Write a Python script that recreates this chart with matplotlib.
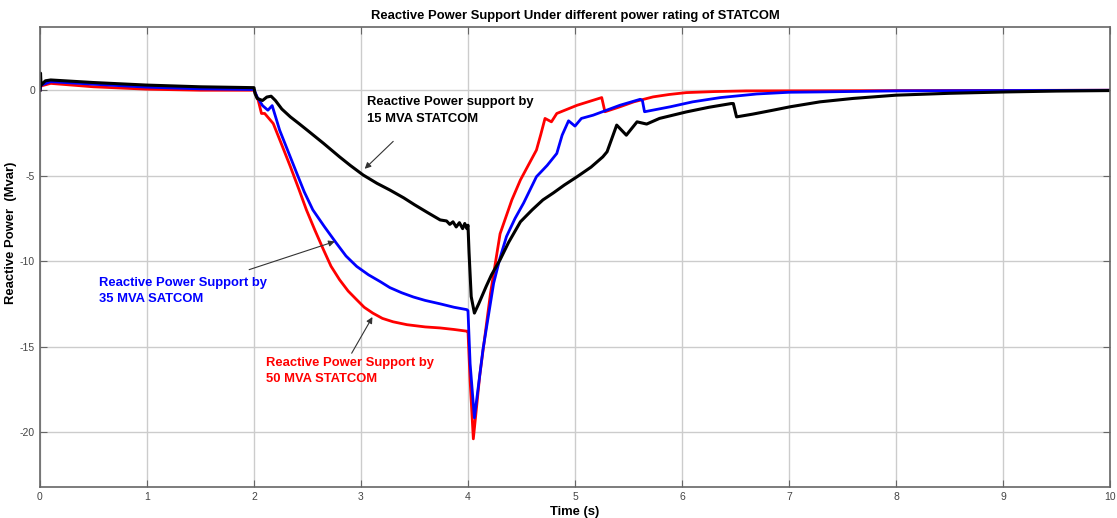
import matplotlib
matplotlib.use("Agg")
import matplotlib.pyplot as plt

plt.rcParams["font.family"] = ["Liberation Sans", "DejaVu Sans"]
plt.rcParams["axes.unicode_minus"] = False

# 15 MVA STATCOM (black)
t_15 = [0, 0.005, 0.01, 0.05, 0.1, 0.5, 1.0, 1.5, 2.0, 2.01, 2.03, 2.08, 2.12, 2.16,
        2.2, 2.26, 2.34, 2.42, 2.5, 2.65, 2.8, 2.9, 3.02, 3.15, 3.27, 3.4, 3.5, 3.62,
        3.74, 3.8, 3.83, 3.86, 3.89, 3.92, 3.95, 3.97, 3.99, 4.0, 4.01, 4.03, 4.06,
        4.1, 4.17, 4.22, 4.3, 4.38, 4.49, 4.6, 4.7, 4.8, 4.9, 5.02, 5.15, 5.26, 5.3,
        5.39, 5.48, 5.58, 5.67, 5.79, 6.04, 6.25, 6.46, 6.48, 6.51, 6.66, 6.85, 7.01,
        7.29, 7.6, 8.0, 8.5, 9.03, 9.5, 10.0]
q_15 = [0, 1.0, 0.3, 0.55, 0.6, 0.45, 0.3, 0.2, 0.15, -0.2, -0.48, -0.6, -0.4, -0.35,
        -0.6, -1.1, -1.56, -1.95, -2.35, -3.11, -3.9, -4.4, -4.96, -5.45, -5.84, -6.3,
        -6.7, -7.15, -7.59, -7.65, -7.85, -7.7, -8.0, -7.75, -8.1, -7.8, -8.1, -7.9,
        -9.5, -12.07, -13.04, -12.5, -11.48, -10.8, -9.92, -8.9, -7.7, -7.0, -6.42,
        -6.0, -5.55, -5.06, -4.5, -3.9, -3.6, -2.04, -2.63, -1.85, -1.98, -1.65, -1.27,
        -1.0, -0.78, -0.78, -1.56, -1.4, -1.17, -0.97, -0.68, -0.48, -0.29, -0.18,
        -0.1, -0.05, -0.02]

# 35 MVA STATCOM (blue)
t_35 = [0, 0.01, 0.1, 0.5, 1.0, 1.5, 2.0, 2.03, 2.08, 2.13, 2.17, 2.24, 2.32, 2.4,
        2.47, 2.55, 2.66, 2.77, 2.86, 2.96, 3.07, 3.18, 3.27, 3.38, 3.49, 3.6, 3.74,
        3.87, 3.99, 4.0, 4.02, 4.06, 4.14, 4.24, 4.3, 4.36, 4.44, 4.52, 4.64, 4.74,
        4.83, 4.88, 4.94, 5.0, 5.06, 5.17, 5.42, 5.61, 5.63, 5.65, 5.89, 6.1, 6.36,
        6.7, 7.0, 7.29, 8.0, 10.0]
q_35 = [0, 0.3, 0.5, 0.35, 0.18, 0.08, 0.04, -0.4, -0.9, -1.17, -0.9, -2.34, -3.6,
        -4.86, -5.95, -7.0, -8.0, -8.95, -9.7, -10.31, -10.8, -11.2, -11.55, -11.85,
        -12.1, -12.3, -12.5, -12.7, -12.84, -12.9, -16.0, -19.17, -15.18, -11.29,
        -9.8, -8.56, -7.5, -6.6, -5.06, -4.4, -3.7, -2.63, -1.79, -2.1, -1.65, -1.46,
        -0.88, -0.53, -0.6, -1.26, -0.97, -0.68, -0.43, -0.22, -0.12, -0.1, -0.04, 0]

# 50 MVA STATCOM (red)
t_50 = [0, 0.01, 0.1, 0.5, 1.0, 1.5, 2.0, 2.04, 2.07, 2.1, 2.18, 2.26, 2.34, 2.42,
        2.49, 2.57, 2.65, 2.72, 2.8, 2.88, 2.96, 3.03, 3.11, 3.2, 3.3, 3.43, 3.6, 3.74,
        3.87, 3.99, 4.0, 4.02, 4.05, 4.11, 4.21, 4.3, 4.41, 4.49, 4.64, 4.68, 4.72,
        4.78, 4.83, 5.02, 5.25, 5.28, 5.42, 5.55, 5.73, 5.88, 6.04, 6.3, 6.6, 10.0]
q_50 = [0, 0.25, 0.4, 0.2, 0.06, 0.0, 0.0, -0.6, -1.36, -1.36, -1.95, -3.2, -4.47,
        -5.8, -7.0, -8.2, -9.34, -10.3, -11.09, -11.75, -12.26, -12.7, -13.04, -13.35,
        -13.55, -13.72, -13.85, -13.91, -14.0, -14.1, -14.1, -17.0, -20.4, -16.7,
        -11.9, -8.4, -6.42, -5.25, -3.5, -2.6, -1.65, -1.85, -1.36, -0.88, -0.43,
        -1.26, -0.97, -0.68, -0.39, -0.25, -0.14, -0.08, -0.04, 0]


def main() -> None:
    fig = plt.figure(figsize=(11.17, 5.18), dpi=100)
    ax = fig.add_axes([0.0358, 0.0604, 0.9579, 0.8875])

    ax.plot(t_50, q_50, color="#ff0000", lw=2)
    ax.plot(t_35, q_35, color="#0000ff", lw=2)
    ax.plot(t_15, q_15, color="black", lw=2.2)

    ax.set_xlim(0, 10)
    ax.set_ylim(-23.2, 3.7)
    ax.set_xticks(range(0, 11))
    ax.set_yticks([-20, -15, -10, -5, 0])
    ax.grid(True, color="#cccccc", lw=1)
    ax.tick_params(direction="in", top=True, right=True, labelsize=7.5,
                   labelcolor="#444444", color="#666666", length=5)
    for s in ax.spines.values():
        s.set_color("#666666")
        s.set_linewidth(1.2)

    ax.set_title("Reactive Power Support Under different power rating of STATCOM",
                 fontsize=9.4, fontweight="bold", pad=6)
    ax.set_xlabel("Time (s)", fontsize=9.4, fontweight="bold", labelpad=3)
    ax.set_ylabel("Reactive Power  (Mvar)", fontsize=9.4, fontweight="bold")
    ax.yaxis.set_label_coords(-0.0215, 0.552)

    arrow = dict(arrowstyle="-|>", color="#333333", lw=0.8, mutation_scale=9)
    ax.annotate("", xy=(3.016, -4.71), xytext=(3.32, -2.88), arrowprops=arrow)
    ax.annotate("", xy=(2.78, -8.8), xytext=(1.93, -10.55), arrowprops=arrow)
    ax.annotate("", xy=(3.12, -13.13), xytext=(2.9, -15.53), arrowprops=arrow)

    ax.text(3.056, -0.35, "Reactive Power support by\n15 MVA STATCOM", color="black",
            fontsize=9.4, fontweight="bold", va="top", ha="left", linespacing=1.5)
    ax.text(0.55, -10.9, "Reactive Power Support by\n35 MVA SATCOM", color="#0000ff",
            fontsize=9.4, fontweight="bold", va="top", ha="left", linespacing=1.5)
    ax.text(2.11, -15.6, "Reactive Power Support by\n50 MVA STATCOM", color="#ff0000",
            fontsize=9.4, fontweight="bold", va="top", ha="left", linespacing=1.5)

    fig.savefig("out.png", dpi=100)


if __name__ == "__main__":
    main()
